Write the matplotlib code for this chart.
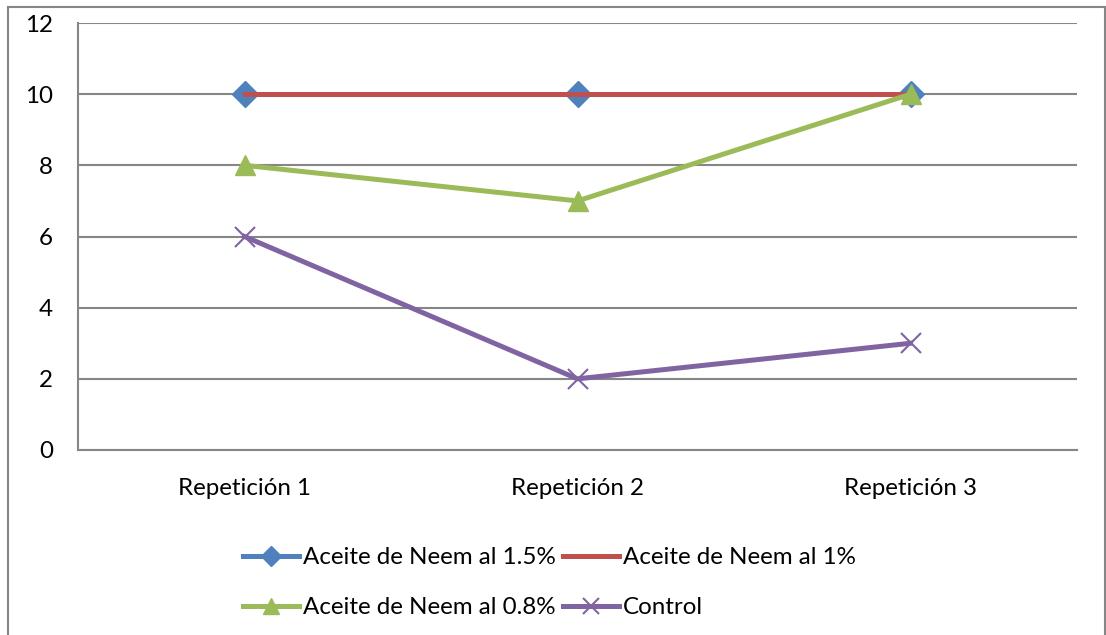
import numpy as np
import matplotlib
matplotlib.use("Agg")
import matplotlib.pyplot as plt
from matplotlib.patches import Rectangle

categorias = ["Repetición 1", "Repetición 2", "Repetición 3"]
neem_15 = [10, 10, 10]
neem_1 = [10, 10, 10]
neem_08 = [8, 7, 10]
control = [6, 2, 3]

plt.rcParams['font.family'] = ['Lato', 'DejaVu Sans']

fig = plt.figure(figsize=(11.06, 6.35), dpi=100)
ax = fig.add_axes([78/1106, 1 - 450/635, 999/1106, 427/635])

x = np.arange(len(categorias))
l1, = ax.plot(x, neem_15, color="#4F81BD", lw=3.6, marker="D", ms=13, zorder=3,
              label="Aceite de Neem al 1.5%")
l2, = ax.plot(x, neem_1, color="#C0504D", lw=3.6, zorder=4,
              label="Aceite de Neem al 1%")
l3, = ax.plot(x, neem_08, color="#9BBB59", lw=3.6, marker="^", ms=15, zorder=5,
              label="Aceite de Neem al 0.8%")
l4, = ax.plot(x, control, color="#8064A2", lw=3.6, marker="x", ms=14, mew=1.5,
              zorder=6, label="Control")

ax.set_xlim(-0.5, 2.5)
ax.set_ylim(0, 12)
ax.set_yticks(range(0, 13, 2))
ax.set_xticks(x)
ax.set_xticklabels(categorias)
ax.tick_params(length=0, labelsize=17.4, colors="black")
ax.tick_params(axis="y", pad=18)
ax.tick_params(axis="x", pad=20)
ax.grid(axis="y", color="#868686", lw=1.5)
ax.set_axisbelow(True)
for s in ["top", "right"]:
    ax.spines[s].set_visible(False)
for s in ["left", "bottom"]:
    ax.spines[s].set_color("#868686")
    ax.spines[s].set_linewidth(1.5)

# orden por filas como en Excel
handles = [l1, l3, l2, l4]
fig.legend(handles, [h.get_label() for h in handles],
           loc="upper left", bbox_to_anchor=(243/1106, 1 - 547/635), ncol=2,
           frameon=False, fontsize=17.4, handlelength=2.3, handletextpad=0.17,
           columnspacing=0.33, labelspacing=1.2, borderaxespad=0, borderpad=0,
           markerscale=0.8)

fig.patches.append(Rectangle((8/1106, -0.05), 1097/1106, 1.05 - 7/635,
                             transform=fig.transFigure, fill=False,
                             edgecolor="#868686", lw=1.5))

fig.savefig("out.png", dpi=100)
